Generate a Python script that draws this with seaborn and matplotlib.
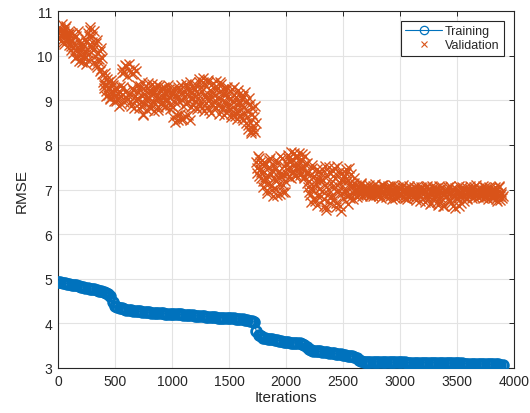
import numpy as np
import pandas as pd
import matplotlib
matplotlib.use("Agg")
import matplotlib.pyplot as plt
from matplotlib.lines import Line2D
import seaborn as sns

# Training RMSE, logged every 20 iterations (0 ... 3900)
train_iter = np.arange(0, 3901, 20)
train_rmse = [
    4.93, 4.92, 4.91, 4.90, 4.89, 4.88, 4.87, 4.86, 4.85, 4.83,
    4.82, 4.81, 4.80, 4.79, 4.78, 4.77, 4.76, 4.75, 4.73, 4.72,
    4.70, 4.68, 4.65, 4.61, 4.48,
    4.39, 4.37, 4.35, 4.34, 4.32, 4.31, 4.30, 4.29, 4.28, 4.28,
    4.27, 4.27, 4.26, 4.26, 4.25, 4.25, 4.24, 4.24, 4.24, 4.23,
    4.23, 4.23, 4.22, 4.22, 4.21,
    4.21, 4.21, 4.20, 4.20, 4.20, 4.19, 4.19, 4.19, 4.18, 4.18,
    4.17, 4.17, 4.17, 4.16, 4.16, 4.15, 4.15, 4.15, 4.14, 4.14,
    4.13, 4.13, 4.13, 4.12, 4.12,
    4.12, 4.11, 4.11, 4.10, 4.10, 4.09, 4.09, 4.08, 4.07, 4.06,
    4.05, 4.03, 3.82, 3.74, 3.71, 3.68, 3.67, 3.66, 3.65, 3.64,
    3.63, 3.62, 3.61, 3.60, 3.59,
    3.58, 3.58, 3.57, 3.57, 3.56, 3.55, 3.55, 3.53, 3.51, 3.46,
    3.42, 3.40, 3.39, 3.38, 3.37, 3.37, 3.36, 3.35, 3.35, 3.34,
    3.33, 3.33, 3.32, 3.32, 3.31,
    3.30, 3.29, 3.28, 3.27, 3.26, 3.25, 3.22, 3.18, 3.15, 3.14,
    3.14, 3.14, 3.14, 3.14, 3.14, 3.14, 3.13, 3.13, 3.13, 3.13,
    3.13, 3.13, 3.13, 3.13, 3.13,
    3.13, 3.13, 3.13, 3.12, 3.12, 3.12, 3.12, 3.12, 3.12, 3.12,
    3.12, 3.12, 3.12, 3.12, 3.12, 3.12, 3.11, 3.11, 3.11, 3.11,
    3.11, 3.11, 3.11, 3.11, 3.11,
    3.11, 3.11, 3.11, 3.10, 3.10, 3.10, 3.10, 3.10, 3.10, 3.10,
    3.09, 3.09, 3.09, 3.09, 3.09, 3.08, 3.08, 3.08, 3.08, 3.07,
    3.07,
]

# Validation RMSE at iterations 0, 10, 20, ... 3900
val_iter_a = np.arange(0, 3901, 10)
val_rmse_a = [
    10.52, 10.38, 10.61, 10.44, 10.30, 10.55, 10.47, 10.66, 10.35, 10.49,
    10.48, 10.22, 10.36, 10.05, 10.29, 10.41, 9.98, 10.17, 10.33, 10.02,
    10.12, 9.86, 10.25, 9.95, 10.08, 10.31, 9.90, 10.45, 10.58, 10.22,
    10.45, 10.12, 9.85, 10.28, 9.74, 10.05, 9.92, 9.66, 10.18, 9.58,
    9.35, 9.62, 9.21, 9.48, 9.12, 9.30, 9.05, 9.39, 9.18, 9.26,
    9.12, 8.98, 9.25, 9.05, 9.18, 8.92, 9.71, 9.30, 9.64, 9.08,
    9.76, 9.02, 9.68, 9.15, 8.88, 9.58, 9.22, 9.72, 9.00, 9.35,
    9.18, 8.82, 9.31, 8.95, 9.10, 8.70, 9.24, 9.03, 8.78, 9.38,
    9.05, 9.22, 8.90, 9.15, 8.75, 9.28, 9.00, 9.12, 8.85, 9.33,
    9.20, 8.96, 9.09, 9.30, 8.88, 9.16, 9.02, 9.25, 8.80, 9.11,
    9.15, 8.62, 9.28, 8.95, 9.08, 8.55, 9.22, 8.70, 9.35, 9.01,
    8.58, 9.18, 8.92, 9.30, 8.68, 9.10, 9.42, 8.85, 9.05, 9.25,
    8.98, 9.35, 8.80, 9.14, 9.48, 8.90, 9.21, 9.40, 8.75, 9.08,
    9.32, 8.86, 9.45, 9.02, 8.72, 9.19, 9.38, 8.95, 9.12, 8.82,
    9.28, 8.70, 9.05, 9.36, 8.88, 9.15, 8.66, 9.22, 8.94, 9.10,
    8.78, 9.20, 8.62, 8.98, 9.30, 8.72, 9.08, 8.58, 8.90, 9.15,
    8.68, 9.02, 8.55, 8.85, 9.18, 8.48, 8.75, 8.36, 8.92, 8.30,
    8.82, 8.42, 8.62, 8.28, 7.62, 7.38, 7.70, 7.45, 7.25, 7.58,
    7.05, 7.62, 7.28, 6.92, 7.48, 7.15, 7.70, 7.34, 6.98, 7.55,
    7.22, 7.66, 6.88, 7.40, 7.12, 7.74, 7.30, 6.95, 7.52, 7.18,
    7.60, 7.35, 7.78, 7.48, 7.25, 7.68, 7.42, 7.82, 7.55, 7.33,
    7.72, 7.45, 7.62, 7.38, 7.80, 7.50, 7.28, 7.58, 7.15, 7.40,
    6.95, 7.32, 6.72, 7.48, 7.08, 6.80, 7.22, 6.66, 7.40, 7.02,
    7.18, 6.85, 7.45, 6.62, 7.10, 6.55, 7.30, 6.90, 7.50, 6.70,
    7.05, 7.42, 6.78, 7.25, 6.60, 7.52, 6.95, 7.15, 6.52, 7.38,
    6.82, 7.28, 7.00, 7.45, 6.68, 7.12, 6.90, 7.35, 7.05, 6.78,
    7.15, 6.92, 7.02, 6.88, 7.08, 6.95, 7.12, 6.86, 7.00, 6.93,
    6.98, 7.06, 6.90, 7.02, 6.85, 6.96, 7.08, 6.92, 7.00, 6.88,
    7.04, 6.94, 6.86, 7.01, 6.97, 7.09, 6.89, 6.99, 6.83, 7.03,
    6.95, 7.07, 6.87, 6.78, 7.00, 6.92, 7.05, 6.84, 6.97, 6.90,
    7.02, 6.88, 6.96, 7.10, 6.80, 6.94, 7.03, 6.86, 6.99, 6.91,
    6.97, 6.84, 7.05, 6.90, 6.76, 7.01, 6.93, 6.87, 7.06, 6.95,
    6.89, 7.00, 6.72, 6.96, 7.08, 6.85, 6.68, 6.98, 6.92, 7.03,
    6.80, 6.95, 7.04, 6.66, 6.90, 6.99, 6.75, 7.06, 6.88, 6.62,
    6.94, 7.02, 6.78, 6.89, 7.07, 6.70, 6.97, 6.86, 6.58, 6.93,
    7.00, 6.82, 6.64, 6.95, 7.05, 6.88, 6.74, 6.99, 6.91, 6.80,
    6.96, 7.08, 6.87, 6.93, 7.01, 6.84, 6.97, 7.10, 6.89, 6.94,
    6.86, 7.02, 6.92, 6.80, 6.98, 7.06, 6.85, 6.95, 6.90, 7.04,
    6.83, 6.97, 6.88, 7.05, 6.79, 6.93, 6.86, 7.08, 6.76, 6.90,
    6.85,
]

# Validation RMSE at iterations 5, 15, 25, ... 3895
val_iter_b = np.arange(5, 3900, 10)
val_rmse_b = [
    10.41, 10.58, 10.33, 10.70, 10.46, 10.27, 10.62, 10.39, 10.53, 10.24,
    10.36, 10.12, 10.51, 10.20, 9.95, 10.44, 10.10, 10.55, 9.88, 10.26,
    9.92, 10.18, 10.02, 10.38, 9.82, 10.15, 10.50, 10.04, 10.64, 10.30,
    10.20, 10.55, 10.00, 9.78, 10.35, 9.88, 10.10, 9.70, 9.95, 9.42,
    9.28, 9.52, 9.10, 9.40, 9.25, 9.02, 9.46, 9.14, 9.34, 8.98,
    9.28, 9.02, 9.15, 8.88, 9.32, 9.10, 9.60, 8.95, 9.78, 9.20,
    9.55, 9.12, 9.82, 8.95, 9.28, 9.62, 8.82, 9.10, 9.66, 9.05,
    9.02, 9.26, 8.88, 9.40, 8.66, 9.14, 8.92, 9.33, 9.06, 8.85,
    9.18, 8.82, 9.36, 8.98, 9.20, 8.92, 9.35, 8.78, 9.06, 9.24,
    8.92, 9.28, 9.05, 8.85, 9.22, 8.98, 9.34, 9.08, 8.90, 9.18,
    8.85, 9.20, 8.52, 9.12, 8.68, 9.30, 8.98, 8.58, 9.16, 8.88,
    9.08, 8.64, 9.36, 8.96, 9.20, 8.55, 9.02, 9.32, 8.90, 9.14,
    9.26, 8.86, 9.06, 9.42, 8.96, 9.30, 8.82, 9.50, 9.12, 8.94,
    9.04, 9.40, 8.78, 9.22, 9.10, 8.90, 9.28, 8.84, 9.44, 9.06,
    8.92, 9.18, 9.40, 8.80, 9.26, 8.96, 9.12, 8.74, 9.30, 8.86,
    9.05, 8.70, 9.25, 8.84, 9.12, 8.64, 9.00, 9.22, 8.76, 8.95,
    8.90, 8.60, 9.10, 8.72, 8.96, 8.62, 8.44, 9.05, 8.52, 8.26,
    8.70, 8.35, 8.88, 8.50, 7.48, 7.75, 7.30, 7.62, 7.40, 7.20,
    7.40, 7.18, 7.58, 6.98, 7.30, 7.66, 7.08, 7.44, 6.86, 7.25,
    7.45, 7.02, 7.60, 7.26, 6.90, 7.38, 7.70, 7.10, 7.32, 6.94,
    7.45, 7.70, 7.28, 7.62, 7.84, 7.38, 7.56, 7.30, 7.72, 7.46,
    7.55, 7.82, 7.32, 7.68, 7.46, 7.25, 7.74, 7.36, 7.60, 7.05,
    7.20, 6.88, 7.55, 6.98, 7.30, 6.74, 7.12, 7.45, 6.85, 7.26,
    7.38, 6.96, 7.22, 6.78, 7.52, 6.60, 7.02, 7.40, 6.82, 7.15,
    6.88, 7.30, 7.48, 6.70, 7.10, 6.98, 7.40, 6.62, 7.22, 6.92,
    7.18, 6.95, 7.38, 6.85, 7.22, 7.48, 6.80, 7.10, 6.92, 7.25,
    6.98, 7.10, 6.84, 7.06, 6.90, 7.14, 6.96, 7.04, 6.89, 7.08,
    6.91, 6.99, 7.10, 6.87, 7.04, 6.93, 6.86, 7.01, 7.12, 6.95,
    6.90, 7.06, 6.98, 6.82, 7.11, 6.92, 7.02, 6.87, 6.96, 7.08,
    7.03, 6.86, 6.98, 7.09, 6.90, 6.81, 7.01, 6.94, 7.06, 6.85,
    6.93, 7.05, 6.84, 6.97, 7.02, 6.89, 6.78, 7.07, 6.92, 7.00,
    6.88, 7.02, 6.95, 6.82, 7.08, 6.91, 6.99, 6.74, 6.96, 7.04,
    6.97, 6.84, 7.05, 6.90, 6.78, 7.02, 6.94, 6.70, 7.07, 6.86,
    7.01, 6.88, 6.72, 6.97, 7.08, 6.84, 6.93, 6.64, 7.00, 6.90,
    6.85, 6.96, 7.06, 6.74, 6.92, 7.02, 6.62, 6.88, 7.04, 6.80,
    6.92, 7.07, 6.86, 6.70, 7.00, 6.94, 6.84, 7.06, 6.78, 6.97,
    6.90, 7.02, 6.95, 6.82, 7.06, 6.92, 6.88, 7.00, 6.84, 7.04,
    6.95, 6.88, 7.08, 6.91, 6.84, 7.01, 6.93, 6.78, 7.05, 6.89,
    6.92, 6.80, 7.02, 6.87, 6.96, 6.74, 7.06, 6.85, 6.94, 6.82,
]

x_ticks = [0, 500, 1000, 1500, 2000, 2500, 3000, 3500, 4000]
y_ticks = [3, 4, 5, 6, 7, 8, 9, 10, 11]
series_names = ["Training", "Validation"]

BLUE = "#0072BD"
ORANGE = "#D95319"
INK = "#262626"

sns.set_style("white")
plt.rcParams["font.family"] = ["Liberation Sans", "DejaVu Sans"]

train_df = pd.DataFrame({"Iterations": train_iter, "RMSE": train_rmse})
val_df = pd.concat([
    pd.DataFrame({"Iterations": val_iter_a, "RMSE": val_rmse_a}),
    pd.DataFrame({"Iterations": val_iter_b, "RMSE": val_rmse_b}),
], ignore_index=True)

fig = plt.figure(figsize=(5.30, 4.14), dpi=100)
ax = fig.add_axes([0.1094, 0.1087, 0.8604, 0.8623])

sns.lineplot(data=train_df, x="Iterations", y="RMSE", ax=ax, color=BLUE,
             linewidth=0.8, marker="o", markersize=7.0,
             markerfacecolor="none", markeredgecolor=BLUE,
             markeredgewidth=2.0, estimator=None, zorder=3)
sns.scatterplot(data=val_df, x="Iterations", y="RMSE", ax=ax, marker="x",
                s=52, color=ORANGE, linewidth=1.0, zorder=2)

ax.set_xlim(0, 4000)
ax.set_ylim(3, 11)
ax.set_xticks(x_ticks)
ax.set_yticks(y_ticks)
ax.grid(True, color="#e3e3e3", linewidth=0.8)
ax.set_axisbelow(True)

for side in ["left", "right", "top", "bottom"]:
    ax.spines[side].set_visible(True)
    ax.spines[side].set_color(INK)
    ax.spines[side].set_linewidth(0.8)

ax.tick_params(axis="both", direction="in", length=3.5, width=0.7,
               colors=INK, labelsize=10, top=True, right=True,
               labeltop=False, labelright=False, pad=4)

ax.set_xlabel("Iterations", fontsize=11, color=INK, labelpad=2)
ax.set_ylabel("RMSE", fontsize=11, color=INK, labelpad=6)

handles = [
    Line2D([], [], color=BLUE, linewidth=0.8, marker="o", markersize=6,
           markerfacecolor="none", markeredgewidth=0.9),
    Line2D([], [], linestyle="none", color=ORANGE, marker="x",
           markersize=5, markeredgewidth=0.8),
]
leg = ax.legend(handles, series_names, loc="upper right", fontsize=9,
                frameon=True, fancybox=False, framealpha=1,
                edgecolor=INK, borderpad=0.35, handlelength=3.0,
                handletextpad=0.2, labelspacing=0.15,
                borderaxespad=0.8)
leg.get_frame().set_linewidth(0.8)
for t in leg.get_texts():
    t.set_color(INK)

fig.savefig("out.png", dpi=100)
